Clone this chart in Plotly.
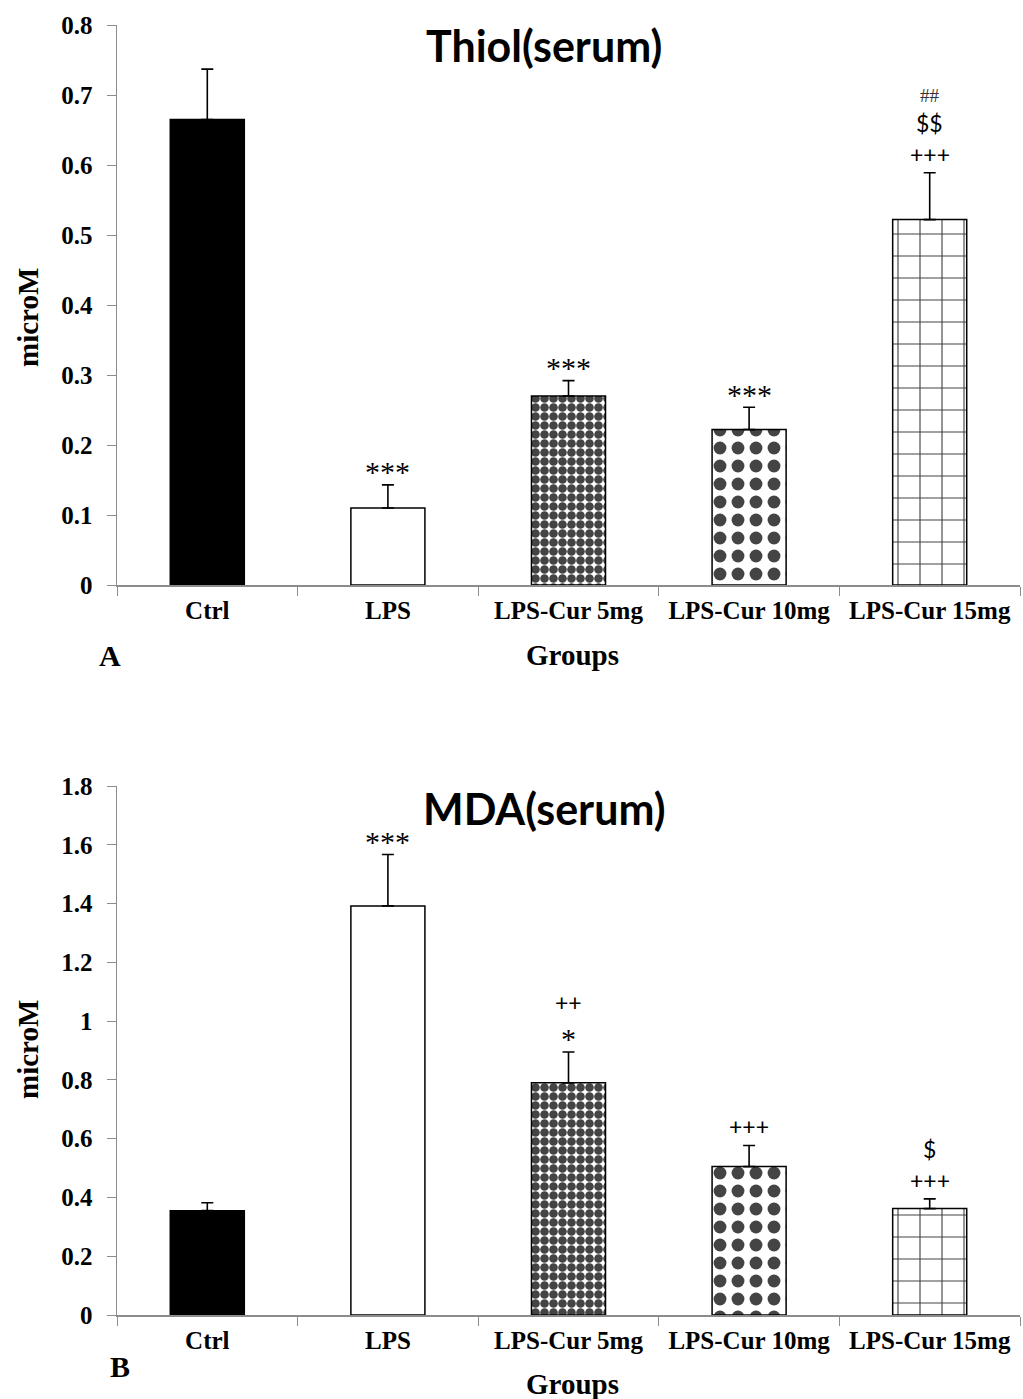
import plotly.graph_objects as go
from plotly.subplots import make_subplots

groups = ["Ctrl", "LPS", "LPS-Cur 5mg", "LPS-Cur 10mg", "LPS-Cur 15mg"]
thiol_mean = [0.665, 0.110, 0.270, 0.222, 0.522]
thiol_err = [0.072, 0.033, 0.022, 0.032, 0.067]
mda_mean = [0.355, 1.392, 0.790, 0.505, 0.362]
mda_err = [0.027, 0.175, 0.105, 0.072, 0.033]

thiol_marks = [[], ["***"], ["***"], ["***"], ["+++", "$$", "##"]]
mda_marks = [[], ["***"], ["*", "++"], ["+++"], ["+++", "$"]]

W, H = 1023.0, 1399.0
fig = make_subplots(rows=2, cols=1)

def ydom(top_px, bot_px):
    return [1 - bot_px / H, 1 - top_px / H]

fills = ["black", "white", "white", "white", "white"]
shapes = ["", "", ".", ".", "+"]
psize = [8, 8, 9, 18, 22]
psol = [0.3, 0.3, 0.72, 0.4, 0.1]

def add_panel(row, means, errs):
    fig.add_trace(go.Bar(
        x=groups, y=means,
        width=0.41,
        marker=dict(
            color=fills,
            line=dict(color="black", width=1.5),
            pattern=dict(shape=shapes, size=psize, solidity=psol,
                         fgcolor="black", bgcolor="white", fgopacity=1,
                         fillmode="overlay"),
        ),
        error_y=dict(type="data", symmetric=False, array=errs,
                     arrayminus=[0] * len(errs), color="black",
                     thickness=1.6, width=6),
        showlegend=False,
    ), row=row, col=1)

add_panel(1, thiol_mean, thiol_err)
add_panel(2, mda_mean, mda_err)

tickfont = dict(family="Liberation Serif", size=25, color="black", weight="bold")
panels = [([0, 0.8], 0.1, ydom(25, 585)), ([0, 1.8], 0.2, ydom(786, 1315))]
for r, (rng, dt, dom) in enumerate(panels, start=1):
    fig.update_yaxes(range=rng, dtick=dt, domain=dom, showgrid=False,
                     showline=True, linecolor="#8c8c8c", linewidth=1.5,
                     ticks="outside", ticklen=9, tickcolor="#8c8c8c",
                     tickfont=tickfont, zeroline=False, automargin=False,
                     ticklabelstandoff=9,
                     row=r, col=1)
    fig.update_xaxes(range=[-0.5, 4.5], domain=[117 / W, 1020 / W],
                     showgrid=False, showline=True, linecolor="#8c8c8c", linewidth=1.5,
                     ticks="outside", ticklen=9, tickcolor="#8c8c8c",
                     tickson="boundaries", automargin=False,
                     tickfont=tickfont, ticklabelstandoff=2,
                     row=r, col=1)

ann = []
offs = [19, 50, 77]
for row, means, errs, marks in [(1, thiol_mean, thiol_err, thiol_marks),
                                (2, mda_mean, mda_err, mda_marks)]:
    yref = "y" if row == 1 else "y2"
    xref = "x" if row == 1 else "x2"
    for i, ms in enumerate(marks):
        for k, m in enumerate(ms):
            ys = offs[k]
            if m.startswith("*"):
                f = dict(family="Liberation Serif", size=30, color="black")
                ys -= 6
            elif m.startswith("#"):
                f = dict(family="Liberation Serif", size=19, color="#333333")
            else:
                f = dict(family="Lato", size=23, color="black")
            ann.append(dict(x=groups[i], y=means[i] + errs[i], xref=xref, yref=yref,
                            text=m, showarrow=False, yanchor="middle", xanchor="center",
                            yshift=ys, font=f))

def paper_text(x, y, text, font, angle=0):
    ann.append(dict(x=x / W, y=1 - y / H, xref="paper", yref="paper", text=text,
                    showarrow=False, xanchor="center", yanchor="middle",
                    textangle=angle, font=font))

titlefont = dict(family="Lato", size=43, color="black", weight="bold")
serifb = dict(family="Liberation Serif", size=29, color="black", weight="bold")
letterf = dict(family="Liberation Serif", size=30, color="black", weight="bold")
paper_text(544, 46, "Thiol(serum)", titlefont)
paper_text(544, 808, "MDA(serum)", titlefont)
paper_text(110, 655, "A", letterf)
paper_text(120, 1366, "B", letterf)
paper_text(572, 655, "Groups", serifb)
paper_text(572, 1384, "Groups", serifb)
paper_text(28, 318, "microM", serifb, -90)
paper_text(28, 1050, "microM", serifb, -90)

fig.update_layout(width=1023, height=1399,
                  margin=dict(l=0, r=0, t=0, b=0, autoexpand=False),
                  plot_bgcolor="white", paper_bgcolor="white",
                  hovermode=False,
                  annotations=ann)

fig.write_html("out.html", config={"displayModeBar": False, "staticPlot": True},
               post_script="document.body.style.margin='0px';document.body.style.overflow='hidden';")
